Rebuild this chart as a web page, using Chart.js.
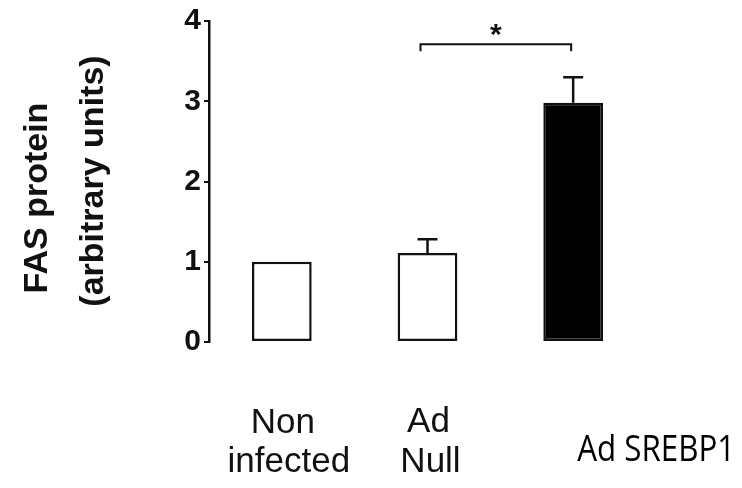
<!DOCTYPE html>
<html>
<head>
<meta charset="utf-8">
<script src="https://cdn.jsdelivr.net/npm/chart.js@4"></script>
<style>
  html, body { margin: 0; padding: 0; background: #fff; }
  #wrap { width: 742px; height: 488px; }
</style>
</head>
<body>
<div id="wrap"><canvas id="fasChart" width="742" height="488"></canvas></div>
<script>
// data
const categories = [["Non", "infected"], ["Ad", "Null"], ["Ad SREBP1"]];
const fasValues = [1.0, 1.11, 2.98];
const errorTops = [null, 1.28, 3.30];
const barColors = ["#ffffff", "#ffffff", "#000000"];
const yTicks = [0, 1, 2, 3, 4];
const sigPair = [1, 2];
const sigLevel = 3.71;
const sigMark = "*";

const ctx = document.querySelector("#fasChart").getContext("2d");

// error bars + significance bracket
const annotations = {
  id: "annotations",
  afterDatasetsDraw(chart) {
    const c = chart.ctx;
    const x = chart.scales.x;
    const y = chart.scales.y;
    c.save();
    c.strokeStyle = "#111";
    c.lineWidth = 2.5;
    errorTops.forEach((top, i) => {
      if (top == null) return;
      const px = x.getPixelForValue(i);
      c.beginPath();
      c.moveTo(px, y.getPixelForValue(fasValues[i]));
      c.lineTo(px, y.getPixelForValue(top));
      c.moveTo(px - 10, y.getPixelForValue(top));
      c.lineTo(px + 10, y.getPixelForValue(top));
      c.stroke();
    });
    // bracket
    const x1 = x.getPixelForValue(sigPair[0]) - 7;
    const x2 = x.getPixelForValue(sigPair[1]) - 2;
    const by = y.getPixelForValue(sigLevel);
    c.lineWidth = 2;
    c.beginPath();
    c.moveTo(x1, by + 7);
    c.lineTo(x1, by);
    c.lineTo(x2, by);
    c.lineTo(x2, by + 7);
    c.stroke();
    c.fillStyle = "#111";
    c.font = "bold 30px 'Liberation Sans', Arial, sans-serif";
    c.textAlign = "center";
    c.textBaseline = "middle";
    c.fillText(sigMark, (x1 + x2) / 2, by - 9);
    c.restore();
  }
};

// category labels and y title
const labelsPlugin = {
  id: "labelsPlugin",
  afterDraw(chart) {
    const c = chart.ctx;
    const x = chart.scales.x;
    c.save();
    c.textAlign = "center";
    c.textBaseline = "alphabetic";
    c.fillStyle = "#111";
    c.font = "35px 'Liberation Sans', Arial, sans-serif";
    const p0 = x.getPixelForValue(0) + 1;
    c.fillText(categories[0][0], p0, 433);
    c.fillText(categories[0][1], p0 + 6, 472);
    const p1 = x.getPixelForValue(1) + 1;
    c.fillText(categories[1][0], p1, 432);
    c.fillText(categories[1][1], p1 + 2, 472);
    c.fillStyle = "#000";
    c.font = "36px 'Open Sans', sans-serif";
    c.fillText(categories[2][0], x.getPixelForValue(2) + 83, 461, 158);

    // y axis title, two rotated lines
    c.fillStyle = "#111";
    c.font = "bold 34px 'Liberation Sans', Arial, sans-serif";
    c.textBaseline = "middle";
    c.save();
    c.translate(38, 198);
    c.rotate(-Math.PI / 2);
    c.fillText("FAS protein", 0, 0);
    c.restore();
    c.save();
    c.translate(94, 181);
    c.rotate(-Math.PI / 2);
    c.fillText("(arbitrary units)", 0, 0);
    c.restore();
    c.restore();
  }
};

new Chart(ctx, {
  type: "bar",
  data: {
    labels: categories,
    datasets: [{
      data: fasValues,
      backgroundColor: barColors,
      borderColor: "#111",
      borderWidth: 2.5,
      borderSkipped: false,
      barPercentage: 0.41,
      categoryPercentage: 1
    }]
  },
  options: {
    responsive: false,
    animation: false,
    layout: { padding: { top: 17, right: 96, bottom: 146, left: 0 } },
    plugins: { legend: { display: false }, tooltip: { enabled: false } },
    scales: {
      x: { display: false },
      y: {
        min: 0,
        max: 4,
        afterFit: (s) => { s.width = 209; },
        afterBuildTicks: (s) => { s.ticks = yTicks.map(v => ({ value: v })); },
        border: { display: true, color: "#111", width: 2.5 },
        grid: { drawOnChartArea: false, color: "#111", tickLength: 5, lineWidth: 2 },
        ticks: {
          padding: 3,
          color: "#111",
          font: { family: "'Liberation Sans', Arial, sans-serif", size: 30, weight: "bold" }
        }
      }
    }
  },
  plugins: [annotations, labelsPlugin]
});
</script>
</body>
</html>
